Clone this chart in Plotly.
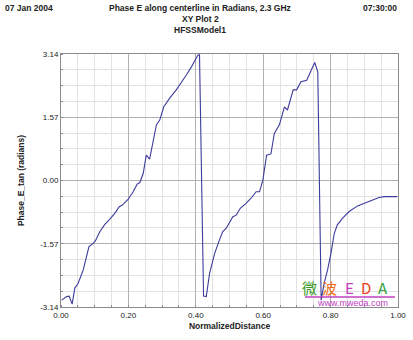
import plotly.graph_objects as go

# Normalized distance along centerline
distance = [0.002, 0.017, 0.024, 0.033, 0.041, 0.051, 0.066, 0.074, 0.083, 0.096,
            0.103, 0.115, 0.130, 0.145, 0.160, 0.173, 0.182, 0.199, 0.214, 0.226,
            0.234, 0.244, 0.253, 0.263, 0.273, 0.283, 0.293, 0.305, 0.322, 0.342,
            0.372, 0.387, 0.406, 0.411, 0.423, 0.431, 0.441, 0.456, 0.470, 0.480,
            0.490, 0.510, 0.520, 0.532, 0.549, 0.564, 0.579, 0.589, 0.599, 0.610,
            0.623, 0.633, 0.648, 0.663, 0.672, 0.689, 0.699, 0.712, 0.729, 0.742,
            0.753, 0.762, 0.772, 0.781, 0.791, 0.801, 0.811, 0.820, 0.835, 0.855,
            0.880, 0.904, 0.924, 0.944, 0.959, 0.998]
# Phase_E_tan (radians)
phase = [-2.97, -2.88, -2.87, -3.07, -2.67, -2.55, -2.22, -1.97, -1.64, -1.56,
         -1.48, -1.27, -1.09, -0.96, -0.81, -0.65, -0.61, -0.47, -0.28, -0.09,
         -0.05, 0.18, 0.63, 0.53, 1.00, 1.38, 1.50, 1.83, 2.04, 2.25,
         2.62, 2.82, 3.11, 3.12, -2.87, -2.88, -2.30, -1.81, -1.48, -1.27,
         -1.19, -0.90, -0.86, -0.69, -0.57, -0.44, -0.28, -0.28, 0.01, 0.63,
         0.66, 1.17, 1.38, 1.83, 1.75, 2.25, 2.25, 2.45, 2.49, 2.74,
         2.93, 2.70, -2.97, -2.55, -2.22, -1.81, -1.31, -1.10, -0.94, -0.77,
         -0.63, -0.55, -0.48, -0.42, -0.40, -0.40]

x_ticks = [0.0, 0.2, 0.4, 0.6, 0.8, 1.0]
x_labels = ["0.00", "0.20", "0.40", "0.60", "0.80", "1.00"]
y_ticks = [-3.14, -1.57, 0.0, 1.57, 3.14]
y_labels = ["-3.14", "-1.57", "0.00", "1.57", "3.14"]

FONT = "Liberation Sans, Arial, sans-serif"

L, R, T, B = 61, 15, 54, 33
W, H = 413 - L - R, 340 - T - B


def px_to_paper(px, py):
    return (px - L) / W, 1 - (py - T) / H


fig = go.Figure()
fig.add_trace(go.Scatter(x=distance, y=phase, mode="lines",
                         line=dict(color="#3c3c9c", width=1.1),
                         showlegend=False, hoverinfo="x+y"))

axis_common = dict(showline=True, linecolor="#8c8c8c", linewidth=1, mirror=True,
                   gridcolor="#b0b0b0", gridwidth=1, zeroline=False, automargin=False,
                   ticks="", tickfont=dict(family=FONT, size=8, color="#222222"))

fig.update_xaxes(range=[0, 1], tickvals=x_ticks, ticktext=x_labels,
                 minor=dict(dtick=0.05, showgrid=True, gridcolor="#e2e2e2", gridwidth=1,
                            ticks="inside", ticklen=2, tickcolor="#8c8c8c"),
                 title=dict(text="<b>NormalizedDistance</b>", font=dict(family=FONT, size=8.5, color="#222"),
                            standoff=4),
                 **axis_common)
fig.update_yaxes(range=[-3.14, 3.14], tickvals=y_ticks, ticktext=y_labels,
                 minor=dict(dtick=0.3925, tick0=0, showgrid=True, gridcolor="#e2e2e2", gridwidth=1,
                            ticks="inside", ticklen=2, tickcolor="#8c8c8c"),
                 title=dict(text="<b>Phase_E_tan (radians)</b>", font=dict(family=FONT, size=8.5, color="#222"),
                            standoff=14),
                 **axis_common)

header = [
    ("<b>07 Jan 2004</b>", 3, 8, "left"),
    ("<b>07:30:00</b>", 399, 8, "right"),
    ("<b>Phase E along centerline in Radians, 2.3 GHz</b>", 200, 8, "center"),
    ("<b>XY Plot 2</b>", 200, 19, "center"),
    ("<b>HFSSModel1</b>", 200, 30, "center"),
]
anns = []
for text, px, py, anchor in header:
    x, y = px_to_paper(px, py)
    anns.append(dict(text=text, x=x, y=y, xref="paper", yref="paper",
                     xanchor=anchor, yanchor="middle", showarrow=False,
                     font=dict(family=FONT, size=8.5, color="#222222")))

# watermark
wm = [("微", "#3a9a2a", 309), ("波", "#f07020", 329), ("E", "#c040c0", 349),
      ("D", "#f04020", 366), ("A", "#30a040", 383)]
for ch, col, px in wm:
    x, y = px_to_paper(px, 287)
    anns.append(dict(text=ch, x=x, y=y, xref="paper", yref="paper",
                     xanchor="center", yanchor="middle", showarrow=False,
                     font=dict(family="Noto Sans CJK SC, sans-serif", size=15, color=col)))
x, y = px_to_paper(352, 303)
anns.append(dict(text="www.mweda.com", x=x, y=y, xref="paper", yref="paper",
                 xanchor="center", yanchor="middle", showarrow=False,
                 font=dict(family=FONT, size=9, color="#c040c0")))

ux0, uy = px_to_paper(305, 297)
ux1, _ = px_to_paper(395, 297)

fig.update_layout(
    width=413, height=340,
    margin=dict(l=L, r=R, t=T, b=B),
    paper_bgcolor="white", plot_bgcolor="white",
    annotations=anns,
    shapes=[dict(type="line", xref="paper", yref="paper",
                 x0=ux0, x1=ux1, y0=uy, y1=uy,
                 line=dict(color="#c040c0", width=1.5))],
)

fig.write_html("out.html", config={"displayModeBar": False},
               post_script="document.body.style.margin='0';document.body.style.overflow='hidden';")
